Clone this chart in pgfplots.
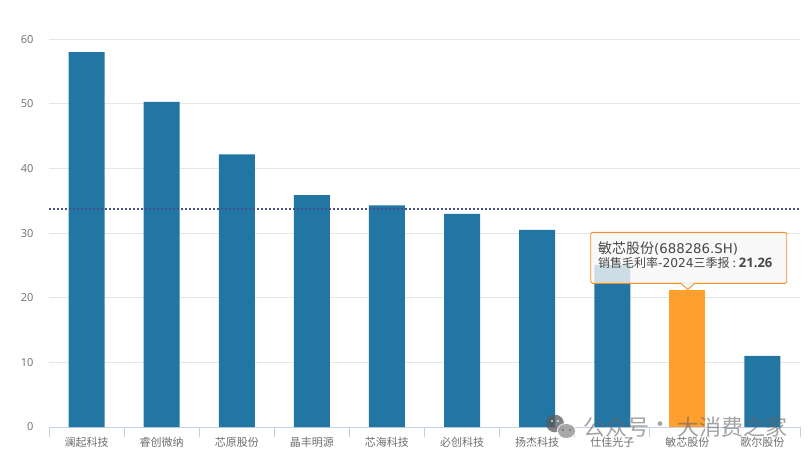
\documentclass[border=0pt]{standalone}
\usepackage{fontspec}
\usepackage{pgfplots}
\pgfplotsset{compat=1.18}
\setmainfont{Open Sans}
\newfontfamily\cjk{Noto Sans CJK SC}
\newfontfamily\djv{DejaVu Sans}
\definecolor{barblue}{HTML}{2176A3}
\definecolor{barorange}{HTML}{FFA02E}
\definecolor{gridc}{HTML}{E6E6E6}
\definecolor{axisc}{HTML}{C6D2E4}
\definecolor{labc}{HTML}{6E6E6E}
\definecolor{tipb}{HTML}{F58F1E}
\definecolor{dotc}{HTML}{46508F}
\begin{document}
\begin{tikzpicture}[x=1pt,y=1pt]
\path[use as bounding box] (0,0) rectangle (812,459);
\begin{axis}[
  at={(49pt,32pt)}, anchor=south west,
  scale only axis, width=751pt, height=387.7pt,
  xmin=-0.5, xmax=9.5, ymin=0, ymax=60,
  ytick={0,10,20,30,40,50,60},
  xtick={0,1,2,3,4,5,6,7,8,9},
  xticklabels={澜起科技,睿创微纳,芯原股份,晶丰明源,芯海科技,必创科技,扬杰科技,仕佳光子,敏芯股份,歌尔股份},
  minor xtick={-0.5,0.5,1.5,2.5,3.5,4.5,5.5,6.5,7.5,8.5,9.5},
  xtick pos=bottom, ytick pos=left, xtick align=outside,
  major tick length=0pt, minor tick length=10pt,
  minor tick style={axisc,line width=0.9pt},
  ymajorgrids, grid style={gridc,line width=0.9pt},
  axis line style={draw=none},
  axis x line*=bottom,
  x axis line style={draw=axisc,line width=0.9pt,-},
  axis y line*=left,
  y axis line style={draw=none},
  xticklabel style={font=\cjk\fontsize{11}{12}\selectfont, text=labc, yshift=-6.5pt},
  yticklabel style={font=\fontsize{11}{13}\selectfont, text=labc, xshift=-12pt},
  /pgf/number format/assume math mode=true,
  ybar, bar width=36pt,
]
\addplot[ybar,bar shift=0pt,draw=none,fill=barblue] coordinates {(0,58) (1,50.3) (2,42.2) (3,35.9) (4,34.3) (5,33) (6,30.5) (7,25.1) (9,11)};
\addplot[ybar,bar shift=0pt,draw=none,fill=barorange] coordinates {(8,21.26)};
\addplot[sharp plot,color=dotc,line width=2pt,dash pattern=on 2pt off 2pt,forget plot] coordinates {(-0.5,33.74) (9.48,33.74)};
\end{axis}
% tooltip
\path[draw=tipb,line width=0.9pt,fill=white!97!black,fill opacity=0.8,rounded corners=1.5pt]
  (590.7,175.7) -- (786.7,175.7) -- (786.7,226.7)
  -- (590.7,226.7) -- cycle;
\path[draw=tipb,line width=0.9pt,fill=white!97!black,fill opacity=0.85]
  (680.5,175.9) -- (687.7,169.5) -- (695,175.9);
\path[fill=white!97!black] (681.5,176.4) -- (687.7,171) -- (694,176.4) -- cycle;
\node[anchor=west,inner sep=0pt,text=black!72] at (598,211) {{\cjk\fontsize{14}{15}\selectfont 敏芯股份}{\djv\fontsize{13.3}{15}\selectfont (688286.SH)}};
\node[anchor=west,inner sep=0pt,text=black!72] at (598,196) {{\cjk\fontsize{12}{14}\selectfont 销售毛利率}{\djv\fontsize{12.2}{14}\selectfont -2024}{\cjk\fontsize{12}{14}\selectfont 三季报}\hspace{3pt}{\cjk\fontsize{12}{14}\selectfont :}\hspace{3pt}{\fontsize{13}{14}\selectfont\textbf{21.26}}};
% watermark
\begin{scope}[opacity=0.75]
\fill[black!65] (555,35.5) ellipse (9pt and 8.8pt);
\fill[white] (566.5,28) ellipse (9.8pt and 8.2pt);
\fill[black!45] (566.5,28) ellipse (8.5pt and 7pt);
\fill[black!65] (563,29) circle (1.1pt) (570,29) circle (1.1pt);
\fill[white] (552,38) circle (1.2pt) (558,38) circle (1.2pt);
\end{scope}
\begin{scope}[opacity=0.6]
\node[anchor=west,inner sep=0pt,text=black!60] at (583,32) {\cjk\fontsize{22}{24}\selectfont 公众号};
\node[anchor=center,inner sep=0pt,text=black!60] at (660,32) {\cjk\fontsize{22}{24}\selectfont ·};
\node[anchor=west,inner sep=0pt,text=black!60] at (677,32) {\cjk\fontsize{22}{24}\selectfont 大消费之家};
\end{scope}
\end{tikzpicture}
\end{document}
